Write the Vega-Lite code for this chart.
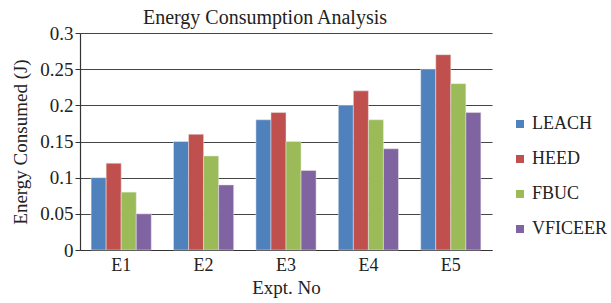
{
  "$schema": "https://vega.github.io/schema/vega-lite/v6.json",
  "autosize": "none",
  "padding": {"left": 80, "top": 33, "right": 119, "bottom": 53},
  "width": 412,
  "height": 217,
  "background": "white",
  "title": {
    "text": "Energy Consumption Analysis",
    "font": "Liberation Serif",
    "fontSize": 20,
    "fontWeight": "normal",
    "color": "#222",
    "anchor": "middle",
    "dx": -21,
    "dy": 12,
    "offset": 8
  },
  "data": {
    "values": [
      {"expt": "E1", "protocol": "LEACH", "energy": 0.10},
      {"expt": "E1", "protocol": "HEED", "energy": 0.12},
      {"expt": "E1", "protocol": "FBUC", "energy": 0.08},
      {"expt": "E1", "protocol": "VFICEER", "energy": 0.05},
      {"expt": "E2", "protocol": "LEACH", "energy": 0.15},
      {"expt": "E2", "protocol": "HEED", "energy": 0.16},
      {"expt": "E2", "protocol": "FBUC", "energy": 0.13},
      {"expt": "E2", "protocol": "VFICEER", "energy": 0.09},
      {"expt": "E3", "protocol": "LEACH", "energy": 0.18},
      {"expt": "E3", "protocol": "HEED", "energy": 0.19},
      {"expt": "E3", "protocol": "FBUC", "energy": 0.15},
      {"expt": "E3", "protocol": "VFICEER", "energy": 0.11},
      {"expt": "E4", "protocol": "LEACH", "energy": 0.20},
      {"expt": "E4", "protocol": "HEED", "energy": 0.22},
      {"expt": "E4", "protocol": "FBUC", "energy": 0.18},
      {"expt": "E4", "protocol": "VFICEER", "energy": 0.14},
      {"expt": "E5", "protocol": "LEACH", "energy": 0.25},
      {"expt": "E5", "protocol": "HEED", "energy": 0.27},
      {"expt": "E5", "protocol": "FBUC", "energy": 0.23},
      {"expt": "E5", "protocol": "VFICEER", "energy": 0.19}
    ]
  },
  "mark": {"type": "bar", "stroke": "#e8e8e8", "strokeWidth": 0.5},
  "encoding": {
    "x": {
      "field": "expt",
      "type": "nominal",
      "title": "Expt. No",
      "scale": {"paddingInner": 0.27, "paddingOuter": 0.135},
      "axis": {
        "labelAngle": 0,
        "labelFont": "Liberation Serif",
        "labelFontSize": 18,
        "labelColor": "#222",
        "titleFont": "Liberation Serif",
        "titleFontSize": 19,
        "titleFontWeight": "normal",
        "titleColor": "#222",
        "titlePadding": 4,
        "labelPadding": 6,
        "ticks": false,
        "domainColor": "#333",
        "domainWidth": 1.2,
        "grid": false
      }
    },
    "xOffset": {
      "field": "protocol",
      "type": "nominal",
      "sort": ["LEACH", "HEED", "FBUC", "VFICEER"],
      "scale": {"paddingInner": 0, "paddingOuter": 0}
    },
    "y": {
      "field": "energy",
      "type": "quantitative",
      "title": "Energy Consumed (J)",
      "scale": {"domain": [0, 0.3], "nice": false},
      "axis": {
        "values": [0, 0.05, 0.1, 0.15, 0.2, 0.25, 0.3],
        "format": "~g",
        "labelFont": "Liberation Serif",
        "labelFontSize": 19,
        "labelColor": "#222",
        "titleFont": "Liberation Serif",
        "titleFontSize": 19,
        "titleFontWeight": "normal",
        "titleColor": "#222",
        "titlePadding": 9,
        "tickSize": 5,
        "tickColor": "#333",
        "labelPadding": 2,
        "domainColor": "#333",
        "domainWidth": 1.2,
        "grid": true,
        "gridColor": "#444",
        "gridWidth": 1
      }
    },
    "color": {
      "field": "protocol",
      "type": "nominal",
      "sort": ["LEACH", "HEED", "FBUC", "VFICEER"],
      "scale": {
        "domain": ["LEACH", "HEED", "FBUC", "VFICEER"],
        "range": ["#4F81BD", "#C0504D", "#9BBB59", "#8064A2"]
      },
      "legend": {
        "title": null,
        "orient": "none",
        "legendX": 431,
        "legendY": 82,
        "symbolType": "square",
        "symbolSize": 64,
        "symbolStrokeWidth": 0,
        "labelFont": "Liberation Serif",
        "labelFontSize": 18,
        "labelColor": "#222",
        "labelOffset": 3,
        "rowPadding": 17
      }
    }
  },
  "config": {"font": "Liberation Serif", "view": {"stroke": null}}
}
